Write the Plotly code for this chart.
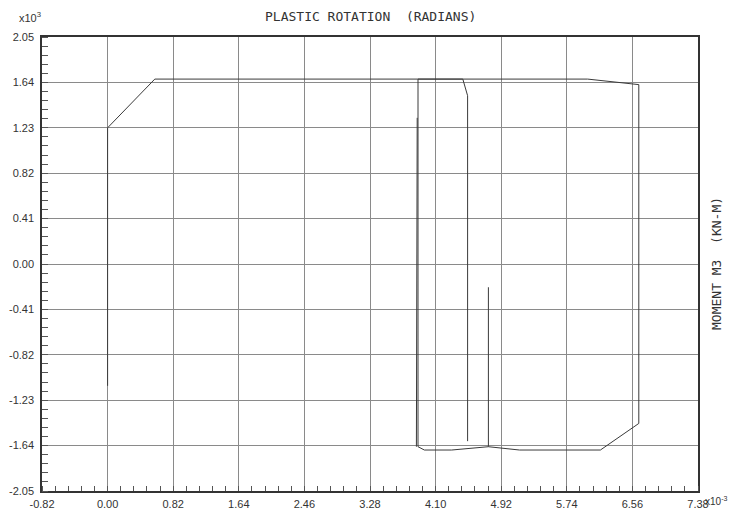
import plotly.graph_objects as go

# Data in displayed units: rotation x10^-3 rad, moment x10^3 kN-m
loop_x = [0.00, 0.00, 0.59, 6.00, 6.64, 6.64, 6.16, 5.15, 4.76, 4.30, 3.96, 3.88, 3.88, 4.44, 4.50, 4.50]
loop_y = [-1.10, 1.23, 1.67, 1.67, 1.62, -1.44, -1.68, -1.68, -1.65, -1.68, -1.68, -1.65, 1.67, 1.67, 1.52, -1.60]
seg2_x = [4.76, 4.76]
seg2_y = [-0.21, -1.65]
seg3_x = [3.87, 3.86]
seg3_y = [1.32, -1.65]

x_ticks = [-0.82, 0.00, 0.82, 1.64, 2.46, 3.28, 4.10, 4.92, 5.74, 6.56, 7.38]
y_ticks = [-2.05, -1.64, -1.23, -0.82, -0.41, 0.00, 0.41, 0.82, 1.23, 1.64, 2.05]

line_style = dict(color="#3a3a3a", width=1)
fig = go.Figure()
for xs, ys in [(loop_x, loop_y), (seg2_x, seg2_y), (seg3_x, seg3_y)]:
    fig.add_trace(go.Scatter(x=xs, y=ys, mode="lines", line=line_style,
                             showlegend=False, hoverinfo="skip"))

tickfont = dict(family="Liberation Sans, Arial, sans-serif", size=11, color="#333")
fig.update_xaxes(
    range=[x_ticks[0], x_ticks[-1]], tickmode="array", tickvals=x_ticks,
    ticktext=[f"{v:.2f}" for v in x_ticks], tickfont=tickfont, automargin=False,
    showgrid=True, gridcolor="#8a8a8a", gridwidth=1, zeroline=False,
    showline=True, linecolor="#333", linewidth=1.5, mirror=True,
    ticks="", ticklabelstandoff=2,
    minor=dict(ticks="inside", ticklen=5, tickcolor="#555", tickwidth=1,
               tick0=-0.82, dtick=0.164, showgrid=False),
)
fig.update_yaxes(
    range=[y_ticks[0], y_ticks[-1]], tickmode="array", tickvals=y_ticks,
    ticktext=[f"{v:.2f}" for v in y_ticks], tickfont=tickfont, automargin=False,
    showgrid=True, gridcolor="#8a8a8a", gridwidth=1, zeroline=False,
    showline=True, linecolor="#333", linewidth=1.5, mirror=True,
    ticks="", ticklabelstandoff=4,
    minor=dict(ticks="inside", ticklen=6, tickcolor="#555", tickwidth=1,
               tick0=-2.05, dtick=0.082, showgrid=False),
)

mono = dict(family="DejaVu Sans Mono, Liberation Mono, monospace", size=13, color="#333")
small = dict(family="Liberation Sans, Arial, sans-serif", size=10, color="#333")
fig.update_layout(
    width=731, height=503,
    margin=dict(l=34, r=41, t=29, b=20),
    paper_bgcolor="white", plot_bgcolor="white",
    annotations=[
        dict(text="PLASTIC ROTATION  (RADIANS)", xref="paper", yref="paper",
             x=0.5, y=1.0, yshift=21, showarrow=False, font=mono,
             xanchor="center", yanchor="middle"),
        dict(text="MOMENT M3  (KN-M)", xref="paper", yref="paper",
             x=1.0, xshift=18, y=0.5, textangle=-90, showarrow=False, font=mono,
             xanchor="center", yanchor="middle"),
        dict(text="x10<sup>3</sup>", xref="paper", yref="paper",
             x=-0.038, y=1.045, showarrow=False, font=tickfont,
             xanchor="left", yanchor="middle"),
        dict(text="x10<sup>-3</sup>", xref="paper", yref="paper",
             x=1.0, xshift=30, y=-0.022, showarrow=False, font=small,
             xanchor="right", yanchor="middle", borderpad=0),
    ],
)
fig.write_html("out.html")
